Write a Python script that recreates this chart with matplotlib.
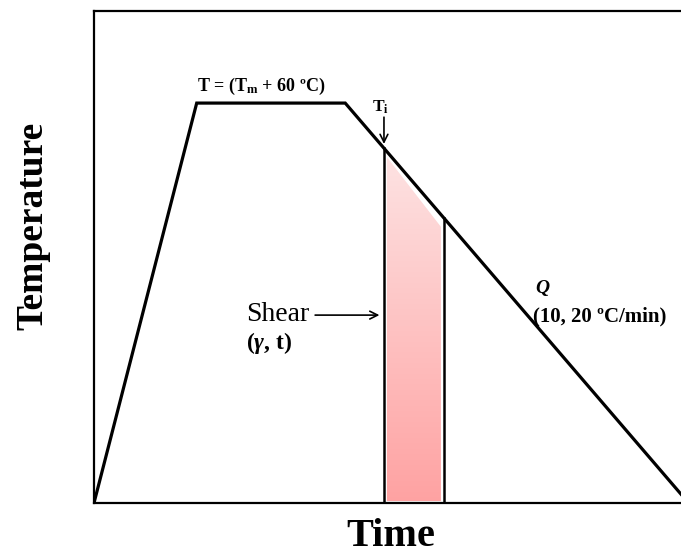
import matplotlib
matplotlib.use("Agg")
import matplotlib.pyplot as plt
from matplotlib.patches import Polygon
import numpy as np

# thermal profile (time, temperature), arbitrary units
time = [0, 17.5, 42.8, 100]
temp = [0, 81.3, 81.3, 1.8]

# shear window on the cooling ramp
shear_start = 49.4
shear_end = 59.6

plt.rcParams['font.family'] = 'Liberation Serif'
plt.rcParams['mathtext.fontset'] = 'custom'
plt.rcParams['mathtext.rm'] = 'Liberation Serif:bold'
plt.rcParams['mathtext.it'] = 'Liberation Serif:bold:italic'
plt.rcParams['mathtext.bf'] = 'Liberation Serif:bold'

fig = plt.figure(figsize=(6.81, 5.54), dpi=100)
ax = fig.add_axes([0.138, 0.092, 0.862, 0.888])
ax.set_xlim(0, 100)
ax.set_ylim(0, 100)

ax.plot(time, temp, color='black', lw=2.3, solid_joinstyle='miter', zorder=3)

# shear band with vertical gradient
y_start = np.interp(shear_start, time, temp)
y_end = np.interp(shear_end, time, temp)
gap = 0.5
poly = Polygon([[shear_start + gap, 0.4], [shear_end - gap, 0.4],
                [shear_end - gap, y_end - 1.8], [shear_start + gap, y_start - 1.8]],
               closed=True, facecolor='none', edgecolor='none')
ax.add_patch(poly)
grad = np.linspace(0, 1, 256).reshape(-1, 1)
cmap = matplotlib.colors.LinearSegmentedColormap.from_list('pink', ['#ffa2a2', '#fde4e4'])
im = ax.imshow(grad, cmap=cmap, origin='lower', aspect='auto',
               extent=[shear_start, shear_end, 0, y_start], zorder=1)
im.set_clip_path(poly)
ax.plot([shear_start, shear_start], [0, y_start], color='black', lw=1.8, zorder=2)
ax.plot([shear_end, shear_end], [0, y_end], color='black', lw=1.8, zorder=2)

for s in ['left', 'top', 'bottom']:
    ax.spines[s].set_linewidth(1.6)
ax.spines['right'].set_visible(False)
ax.set_xticks([])
ax.set_yticks([])

fig.text(391 / 681, 1 - 537 / 554, 'Time', fontsize=29, fontweight='bold',
         ha='center', va='center')
fig.text(33 / 681, 1 - 226 / 554, 'Temperature', fontsize=27, fontweight='bold',
         rotation=90, ha='center', va='center')

ax.text(17.5, 82.6, r'T = (T$_\mathrm{m}$ + 60 ºC)', fontsize=13, fontweight='bold',
        ha='left', va='bottom')
ax.text(47.4, 78.7, r'T$_\mathrm{i}$', fontsize=12.5, fontweight='bold', ha='left', va='bottom')
ax.annotate('', xy=(shear_start, y_start + 0.3), xytext=(shear_start, 79),
            arrowprops=dict(arrowstyle='->', color='black', lw=1.2, mutation_scale=14))

ax.text(25.9, 38.4, 'Shear', fontsize=20, ha='left', va='center')
ax.annotate('', xy=(shear_start - 0.3, 38.2), xytext=(37.2, 38.2),
            arrowprops=dict(arrowstyle='->', color='black', lw=1.2, mutation_scale=14))
ax.text(25.9, 32.6, r'($\gamma$, t)', fontsize=17, fontweight='bold', ha='left', va='center')

ax.text(75.1, 43.7, r'$Q$', fontsize=14, ha='left', va='center')
ax.text(74.8, 38.0, '(10, 20 ºC/min)', fontsize=15, fontweight='bold', ha='left', va='center')

fig.savefig('out.png', dpi=100)
